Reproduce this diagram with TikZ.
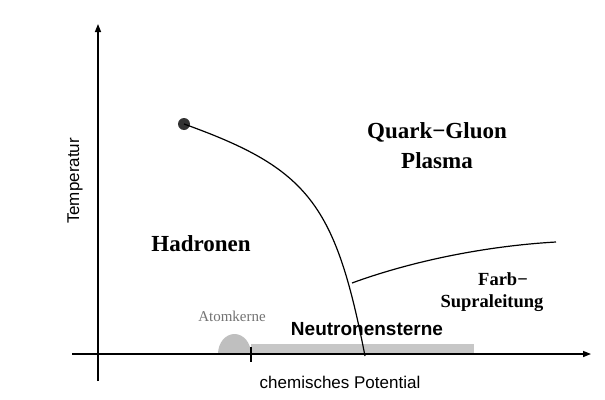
\documentclass[tikz,border=0pt]{standalone}
\usepackage{fontspec}
\setmainfont{Liberation Serif}
\setsansfont{Liberation Sans}
\usetikzlibrary{arrows.meta}
\begin{document}
\begin{tikzpicture}[x=1pt,y=-1pt,
  axis/.style={line width=1.4pt,-{Triangle[length=8pt,width=6pt]}},
  phase/.style={line width=1.2pt},
  serlab/.style={font=\bfseries\fontsize{23}{26}\selectfont,align=center,inner sep=0pt},
  smallser/.style={font=\bfseries\fontsize{18.5}{21}\selectfont,align=center,inner sep=0pt},
  sanslab/.style={font=\sffamily\fontsize{17}{20}\selectfont,inner sep=0pt}]
\useasboundingbox[fill=white] (0,0) rectangle (605,399);
% gray bar and nucleus bump
\fill[black!22] (251,344) rectangle (474,354);
\fill[black!25] (218,354) arc[start angle=180,end angle=360,x radius=16.5,y radius=20] -- cycle;
% axes
\coordinate (xs) at (72,354);
\coordinate (xe) at (591,354);
\coordinate (ys) at (98,381);
\coordinate (ye) at (98,24);
\draw[axis] (xs) -- (xe);
\draw[axis] (ys) -- (ye);
\coordinate (t1) at (251,347);
\coordinate (t2) at (251,362);
\draw[line width=1.2pt] (t1) -- (t2);
% critical point and phase boundaries
\node[circle,fill=black!80,minimum size=12pt,inner sep=0pt] (cp) at (184,124) {};
\coordinate (bend) at (365,356);
\coordinate (tri) at (352,283);
\coordinate (cend) at (556,242);
\draw[phase] (cp.center) .. controls (308,168.5) and (335.3,203.3) .. (bend);
\draw[phase] (tri) .. controls (412,261) and (486,246) .. (cend);
% labels
\node[serlab] (qgp) at (437,146) {Quark−Gluon\\[4pt]Plasma};
\node[serlab] (had) at (201,244) {Hadronen};
\node[smallser] (farb) at (492,292) {\hspace*{22pt}Farb−\\[1pt]Supraleitung};
\node[font=\bfseries\sffamily\fontsize{19}{22}\selectfont,inner sep=0pt] (ns) at (367,329) {Neutronensterne};
\node[text=black!55,font=\fontsize{15}{18}\selectfont,inner sep=0pt] (ak) at (232,316) {Atomkerne};
\node[sanslab] (cpot) at (340,382) {chemisches Potential};
\node[sanslab,rotate=90] (temp) at (75,181) {Temperatur};
\end{tikzpicture}
\end{document}
